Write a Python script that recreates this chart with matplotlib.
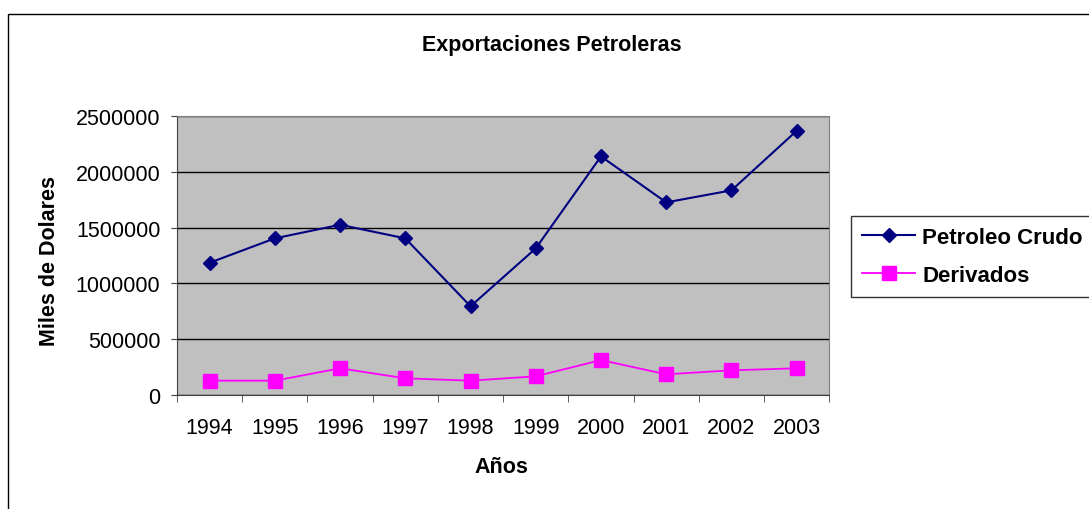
import matplotlib
matplotlib.use('Agg')
import matplotlib.pyplot as plt
from matplotlib.patches import Rectangle

YEARS = ['1994', '1995', '1996', '1997', '1998', '1999', '2000', '2001', '2002', '2003']
CRUDO = [1185000, 1404000, 1526000, 1404000, 794000, 1314000, 2140000, 1727000, 1835000, 2370000]
DERIVADOS = [126000, 126000, 237000, 147000, 126000, 165000, 311000, 183000, 219000, 237000]
Y_TICKS = [0, 500000, 1000000, 1500000, 2000000, 2500000]

plt.rcParams['font.family'] = ['Liberation Sans', 'DejaVu Sans']

W, H = 1089, 510
fig = plt.figure(figsize=(W / 100, H / 100), dpi=100)

# outer chart border (only top and left edges visible)
fig.patches.append(Rectangle((8 / W, -0.05), 1.2, 1 - 15 / H + 0.05,
                             transform=fig.transFigure, fill=False,
                             edgecolor='black', linewidth=1))

ax = fig.add_axes([177 / W, 1 - 395.7 / H, 652.3 / W, 278.4 / H])
ax.set_facecolor('#c0c0c0')

x = list(range(len(YEARS)))
ax.plot(x, CRUDO, color='#000080', linewidth=1.5, marker='D', markersize=6.8,
        label='Petroleo Crudo')
ax.plot(x, DERIVADOS, color='#ff00ff', linewidth=1.3, marker='s', markersize=9.5,
        label='Derivados')

ax.set_xlim(-0.5, len(YEARS) - 0.5)
ax.set_ylim(0, 2500000)
ax.set_yticks(Y_TICKS)
ax.set_yticklabels([str(v) for v in Y_TICKS], fontsize=15.5)
ax.set_xticks(x)
ax.set_xticklabels(YEARS, fontsize=15.5)
ax.set_xticks([i - 0.5 for i in range(len(YEARS) + 1)], minor=True)
ax.tick_params(axis='x', which='major', length=0, pad=16)
ax.tick_params(axis='x', which='minor', length=5, direction='out', color='#404040')
ax.tick_params(axis='y', length=4, direction='out', color='#404040', pad=8)

ax.yaxis.grid(True, color='black', linewidth=1)
ax.set_axisbelow(True)
for side in ['top', 'right']:
    ax.spines[side].set_color('#808080')
for side in ['left', 'bottom']:
    ax.spines[side].set_color('#404040')

fig.text(552 / W, 1 - 45 / H, 'Exportaciones Petroleras', fontsize=15.5,
         fontweight='bold', ha='center', va='center')
fig.text(501 / W, 1 - 468 / H, 'Años', fontsize=15.5, fontweight='bold',
         ha='center', va='center')
fig.text(50 / W, 1 - 261 / H, 'Miles de Dolares', fontsize=15.5, fontweight='bold',
         ha='center', va='center', rotation=90)

leg = fig.legend(loc='upper left', bbox_to_anchor=(851 / W, 1 - 217 / H),
                 prop={'size': 16, 'weight': 'bold'}, frameon=True, fancybox=False,
                 borderpad=0.5, handlelength=2.4, handletextpad=0.3,
                 labelspacing=0.75, borderaxespad=0)
leg.get_frame().set_edgecolor('black')
leg.get_frame().set_linewidth(1)

fig.savefig('out.png', dpi=100)
